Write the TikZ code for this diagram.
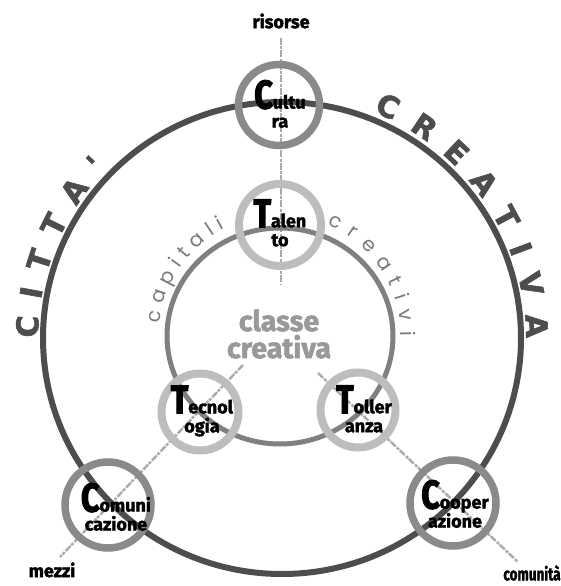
\documentclass[tikz,border=0pt]{standalone}
\usepackage{fontspec}
\usetikzlibrary{decorations.text}
\setmainfont{Fira Sans}
\newfontfamily\handf{Fira Sans}[FakeBold=2]
\newfontfamily\initf{Fira Sans}[FakeStretch=0.8,FakeBold=3]
\newfontfamily\gothf{Poppins}
\newfontfamily\capsf{DejaVu Sans}[FakeBold=2]
\definecolor{ringdark}{HTML}{4D4D4D}
\definecolor{ringmid}{HTML}{808080}
\definecolor{circA}{HTML}{8A8A8A}
\definecolor{circB}{HTML}{BDBDBD}
\definecolor{grain}{HTML}{ABABAB}
\definecolor{centertext}{HTML}{999999}
\definecolor{arctext}{HTML}{7A7A7A}
\newcommand\ini[1]{{\initf\bfseries\fontsize{40}{40}\selectfont #1}}
\begin{document}
\begin{tikzpicture}[x=1pt,y=1pt,
  ringA/.style={circle,draw=circA,line width=7.5pt,inner sep=0pt,outer sep=0pt},
  ringB/.style={circle,draw=circB,line width=8pt,inner sep=0pt,outer sep=0pt},
  lbl/.style={align=center,inner sep=0pt,font=\handf\bfseries\fontsize{18}{19}\selectfont},
  word/.style={inner sep=0pt,font=\handf\bfseries\fontsize{18}{20}\selectfont},
  grainline/.style={draw=grain,line width=2.4pt,dash pattern=on 7pt off 1.5pt on 3pt off 1pt},
  bigarc/.style={decorate,decoration={text along path,text align=fit to path,text color=ringdark,
     text={|\capsf\bfseries\fontsize{30}{30}\selectfont|#1}}},
  smallarc/.style={decorate,decoration={text along path,text align=fit to path,text color=arctext,
     text={|\gothf\fontsize{20}{20}\selectfont|#1}}}
]
\useasboundingbox (0,0) rectangle (561,586);
\coordinate (O) at (282,248);
\coordinate (I) at (280,250);
% grain lines
\coordinate (vTop) at (281,548);
\coordinate (vBot) at (281,301);
\coordinate (lTop) at (243,221);
\coordinate (lBot) at (60,29);
\coordinate (rTop) at (318,213);
\coordinate (rBot) at (518,24);
\draw[grainline] (vTop) -- (vBot);
\draw[grainline] (lTop) -- (lBot);
\draw[grainline] (rTop) -- (rBot);
% big circles
\draw[ringdark,line width=6pt] (O) ellipse[x radius=239,y radius=236];
\draw[ringmid,line width=5pt] (I) ellipse[x radius=113,y radius=108];
% small rings
\node[ringA,minimum size=81pt] (culturaR) at (279,481) {};
\node[ringB,minimum size=82pt] (talentoR) at (280,361) {};
\node[ringB,minimum size=77pt] (tecnologiaR) at (200,174) {};
\node[ringB,minimum size=75pt] (tolleranzaR) at (358,176) {};
\node[ringA,minimum size=86pt] (comunicazioneR) at (108,81) {};
\node[ringA,minimum size=86pt] (cooperazioneR) at (453,83) {};
% labels in rings
\node[lbl] (cultura) at (280,482) {\ini{C}ultu\\ra};
\node[lbl] (talento) at (280,363) {\ini{T}alen\\to};
\node[lbl] (tecnologia) at (202,175) {\ini{T}ecnol\\ogia};
\node[lbl] (tolleranza) at (364,177) {\ini{T}oller\\anza};
\node[lbl] (comunicazione) at (116,79) {\ini{C}omuni\\cazione};
\node[lbl] (cooperazione) at (455,82) {\ini{C}ooper\\azione};
% centre
\node[align=center,inner sep=0pt,text=centertext,font=\handf\bfseries\fontsize{28.5}{27}\selectfont] (classe) at (279,252) {classe\\creativa};
% outer words
\node[word] (risorse) at (281,565) {risorse};
\node[word] (mezzi) at (52,16) {mezzi};
\node[word] (comunita) at (532,13) {\scalebox{0.75}[1]{comunità}};
% arc texts
\path[bigarc={CITTA'}] ([shift={(180:244)}]O) arc[start angle=180,end angle=136,radius=244];
\path[bigarc={CREATIVA}] ([shift={(68:244)}]O) arc[start angle=68,end angle=0,radius=244];
\path[smallarc={capitali}] ([shift={(174:121)}]I) arc[start angle=174,end angle=117,radius=121];
\path[smallarc={creativi}] ([shift={(67:121)}]I) arc[start angle=67,end angle=0,radius=121];
\end{tikzpicture}
\end{document}
